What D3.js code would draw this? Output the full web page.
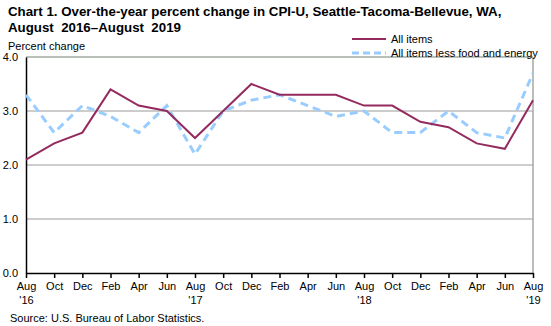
<!DOCTYPE html>
<meta charset="utf-8">
<title>CPI-U Seattle</title>
<style>
  body { margin: 0; background: #fff; }
  text { font-family: "Liberation Sans", Arial, sans-serif; white-space: pre; }
</style>
<div id="viz"></div>
<script src="https://cdnjs.cloudflare.com/ajax/libs/d3/7.8.5/d3.min.js"></script>
<script>

var months = ["Aug","Oct","Dec","Feb","Apr","Jun","Aug","Oct","Dec","Feb",
              "Apr","Jun","Aug","Oct","Dec","Feb","Apr","Jun","Aug"];
var years = ["'16","","","","","","'17","","","","","","'18","","","","","","'19"];
var allItems = [2.1,2.4,2.6,3.4,3.1,3.0,2.5,3.0,3.5,3.3,3.3,3.3,3.1,3.1,2.8,2.7,2.4,2.3,3.2];
var core = [3.3,2.6,3.1,2.9,2.6,3.1,2.2,3.0,3.2,3.3,3.1,2.9,3.0,2.6,2.6,3.0,2.6,2.5,3.7];
var yTicks = [0,1,2,3,4];

var width = 551, height = 326;
var plotLeft = 26, plotRight = 533, plotTop = 57, plotBottom = 273;

var svg = d3.select("#viz").append("svg")
  .attr("width", width)
  .attr("height", height);

var x = d3.scaleLinear().domain([0, months.length - 1]).range([plotLeft, plotRight]);
var y = d3.scaleLinear().domain([0, 4]).range([plotBottom, plotTop]);

// title
svg.append("text").attr("x", 8).attr("y", 16)
  .attr("font-size", 13.3).attr("font-weight", "bold")
  .text("Chart 1. Over-the-year percent change in CPI-U, Seattle-Tacoma-Bellevue, WA,");
svg.append("text").attr("x", 8).attr("y", 32)
  .attr("font-size", 13.3).attr("font-weight", "bold")
  .text("August  2016\u2013August  2019");
svg.append("text").attr("x", 8).attr("y", 50)
  .attr("font-size", 11).text("Percent change");

// gridlines
svg.append("g").selectAll("line")
  .data(yTicks.filter(function(d) { return d > 0; }))
  .enter().append("line")
  .attr("x1", plotLeft).attr("x2", plotRight)
  .attr("y1", function(d) { return y(d); })
  .attr("y2", function(d) { return y(d); })
  .attr("stroke", function(d) { return d == 4 ? "#a3aaa3" : "#9a9a9a"; })
  .attr("stroke-width", function(d) { return d == 4 ? 1.5 : 1; });

// right border
svg.append("line")
  .attr("x1", plotRight).attr("x2", plotRight).attr("y1", plotTop).attr("y2", plotBottom)
  .attr("stroke", "#a3aaa3").attr("stroke-width", 1.5);

// y axis
var yAxis = svg.append("g")
  .attr("transform", "translate(" + plotLeft + ",0)")
  .call(d3.axisLeft(y).tickValues(yTicks).tickSize(0).tickPadding(8)
    .tickFormat(d3.format(".1f")));
yAxis.select(".domain").attr("stroke", "#000").attr("stroke-width", 1.5);
yAxis.selectAll("text").attr("font-size", 11).attr("fill", "#000")
  .attr("font-family", "Liberation Sans, Arial, sans-serif");

// x axis
var xAxis = svg.append("g")
  .attr("transform", "translate(0," + plotBottom + ")")
  .call(d3.axisBottom(x).tickValues(d3.range(months.length))
    .tickSize(5).tickSizeOuter(0).tickFormat(""));
xAxis.select(".domain").attr("stroke", "#000").attr("stroke-width", 1.5);
xAxis.selectAll(".tick line").attr("stroke", "#000").attr("stroke-width", 1.5);

var labels = xAxis.selectAll(".tick").append("text")
  .attr("text-anchor", "middle")
  .attr("fill", "#000")
  .attr("font-size", 11)
  .attr("font-family", "Liberation Sans, Arial, sans-serif");
labels.append("tspan").attr("x", 0).attr("y", 17)
  .text(function(d) { return months[d]; });
labels.append("tspan").attr("x", 0).attr("y", 31)
  .text(function(d) { return years[d]; });

// lines
var line = d3.line()
  .x(function(d, i) { return x(i); })
  .y(function(d) { return y(d); });

svg.append("path").datum(core)
  .attr("fill", "none").attr("stroke", "#99ccff")
  .attr("stroke-width", 3).attr("stroke-dasharray", "8,5")
  .attr("d", line);

svg.append("path").datum(allItems)
  .attr("fill", "none").attr("stroke", "#942b5f")
  .attr("stroke-width", 2)
  .attr("d", line);

// legend
var legend = svg.append("g");
legend.append("line").attr("x1", 352).attr("x2", 386).attr("y1", 39).attr("y2", 39)
  .attr("stroke", "#942b5f").attr("stroke-width", 2);
legend.append("text").attr("x", 391).attr("y", 43).attr("font-size", 11).text("All items");
legend.append("line").attr("x1", 352).attr("x2", 386).attr("y1", 53).attr("y2", 53)
  .attr("stroke", "#99ccff").attr("stroke-width", 3).attr("stroke-dasharray", "7,4");
legend.append("text").attr("x", 391).attr("y", 57).attr("font-size", 11)
  .text("All items less food and energy");

// source
svg.append("text").attr("x", 10).attr("y", 322).attr("font-size", 11)
  .text("Source: U.S. Bureau of Labor Statistics.");

</script>
